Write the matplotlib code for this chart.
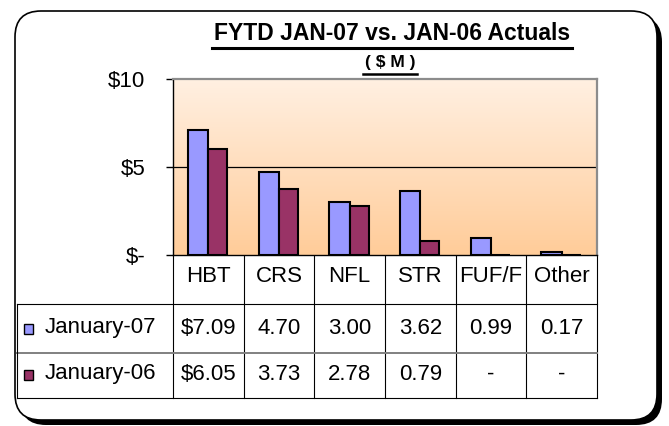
import numpy as np
import matplotlib.pyplot as plt
from matplotlib.patches import FancyBboxPatch, Rectangle
from matplotlib.transforms import blended_transform_factory

# data
categories = ["HBT", "CRS", "NFL", "STR", "FUF/F", "Other"]
jan07 = [7.09, 4.70, 3.00, 3.62, 0.99, 0.17]
jan06 = [6.05, 3.73, 2.78, 0.79, 0.0, 0.0]
series_names = ["January-07", "January-06"]
yticks = [0, 5, 10]
ytick_labels = ["$-", "$5", "$10"]
title = "FYTD JAN-07 vs. JAN-06 Actuals"
subtitle = "( $ M )"

c07 = "#9999FF"
c06 = "#993366"

W, H = 669, 426
plt.rcParams['font.family'] = ['Liberation Sans', 'DejaVu Sans']
fs = 16

fig = plt.figure(figsize=(W / 100, H / 100), dpi=100)

# background layer in pixel coords
bg = fig.add_axes([0, 0, 1, 1], zorder=0)
bg.set_xlim(0, W)
bg.set_ylim(H, 0)
bg.axis('off')

shadow = FancyBboxPatch((20, 16), 642, 409, boxstyle="round,pad=0,rounding_size=26",
                        fc='black', ec='black', lw=0)
frame = FancyBboxPatch((15, 11), 642, 409, boxstyle="round,pad=0,rounding_size=26",
                       fc='white', ec='black', lw=1.2)
bg.add_patch(shadow)
bg.add_patch(frame)

# chart area
left, right, top, bottom = 173, 597, 79, 255
ax = fig.add_axes([left / W, 1 - bottom / H, (right - left) / W, (bottom - top) / H], zorder=1)
ax.patch.set_alpha(0)

top_col = np.array([255, 240, 226]) / 255
bot_col = np.array([255, 204, 153]) / 255
t = np.linspace(0, 1, 256)[:, None]
grad = (top_col * (1 - t) + bot_col * t)[:, None, :]
ax.imshow(grad, extent=[-0.5, 5.5, 0, 10], aspect='auto', zorder=0, interpolation='bilinear')

x = np.arange(len(categories))
ax.bar(x - 0.145, jan07, 0.29, color=c07, edgecolor='black', linewidth=1.5, zorder=3)
ax.bar(x + 0.135, jan06, 0.27, color=c06, edgecolor='black', linewidth=1.5, zorder=3)

ax.set_xlim(-0.5, 5.5)
ax.set_ylim(0, 10)
ax.set_xticks([])
ax.set_yticks(yticks)
ax.set_yticklabels(ytick_labels)
ax.tick_params(axis='y', length=5, width=1, pad=15, labelsize=fs)
ax.axhline(5, color='black', lw=0.9, zorder=1)
for s in ['top', 'right']:
    ax.spines[s].set_color('#8c8c8c')
    ax.spines[s].set_linewidth(1.6)
for s in ['left', 'bottom']:
    ax.spines[s].set_color('black')
    ax.spines[s].set_linewidth(1.0)

# data table below the chart
trans = blended_transform_factory(ax.transData, bg.transData)
row_top, row_mid, row_bot = 304, 353, 398
for b in np.arange(len(categories) + 1) - 0.5:
    bg.plot([b, b], [bottom, row_bot], color='black', lw=0.8, transform=trans)
bg.plot([17, right], [row_top, row_top], color='black', lw=0.8)
bg.plot([17, right], [row_mid, row_mid], color='#808080', lw=1.4)
bg.plot([17, right], [row_bot, row_bot], color='black', lw=0.8)
bg.plot([17, 17], [row_top, row_bot], color='black', lw=0.8)

for i, c in enumerate(categories):
    bg.text(i, 277, c, transform=trans, ha='center', va='center', fontsize=fs)


def fmt(v, first):
    if v == 0:
        return "-"
    return ("$" if first else "") + f"{v:.2f}"


for vals, name, col, yc in [(jan07, series_names[0], c07, 328), (jan06, series_names[1], c06, 374)]:
    bg.add_patch(Rectangle((24, yc - 4), 9, 10, fc=col, ec='black', lw=1.0))
    bg.text(45, yc, name, ha='left', va='center', fontsize=fs)
    for i, v in enumerate(vals):
        bg.text(i, yc, fmt(v, i == 0), transform=trans, ha='center', va='center', fontsize=fs)

# titles with underline
t1 = bg.text(392, 34, title, ha='center', va='center', fontsize=16.5, fontweight='bold')
t2 = bg.text(390, 62, subtitle, ha='center', va='center', fontsize=12.5, fontweight='bold')
fig.canvas.draw()
inv = bg.transData.inverted()
for txt, yl, lw in [(t1, 48, 2.2), (t2, 74, 1.8)]:
    bb = txt.get_window_extent()
    x0 = inv.transform((bb.x0, bb.y0))[0]
    x1 = inv.transform((bb.x1, bb.y0))[0]
    bg.plot([x0 - 2, x1 + 2], [yl, yl], color='black', lw=lw)

fig.savefig("out.png", dpi=100)
